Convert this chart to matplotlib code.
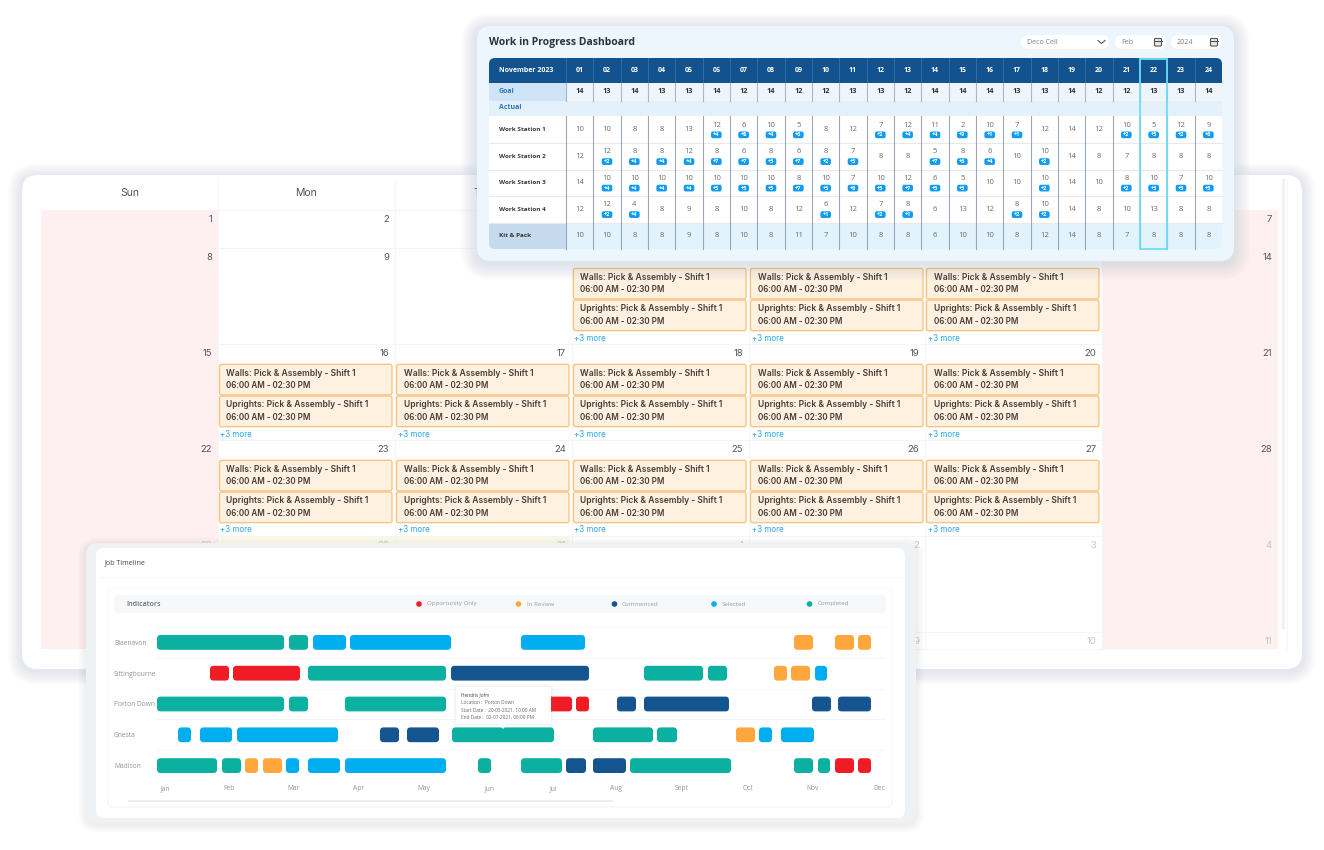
import matplotlib
matplotlib.use("Agg")
import matplotlib.pyplot as plt
from matplotlib.patches import FancyBboxPatch, Rectangle, Circle, Polygon

# ---------- data: work in progress table ----------
wip_days = ["%02d" % d for d in range(1, 25)]
wip_goal = [14,13,14,13,13,14,12,14,12,12,13,13,12,14,14,14,13,13,14,12,12,13,13,14]
ws1_val = [10,10,8,8,13,12,6,10,5,8,12,7,12,11,2,10,7,12,14,12,10,5,12,9]
ws1_add = [0,0,0,0,0,4,8,4,6,0,0,2,4,4,9,1,1,0,0,0,2,5,2,6]
ws2_val = [12,12,8,8,12,8,6,8,6,8,7,8,8,5,8,6,10,10,14,8,7,8,8,8]
ws2_add = [0,2,4,4,4,7,7,3,7,2,3,0,0,7,6,4,0,2,0,0,0,0,0,0]
ws3_val = [14,10,10,10,10,10,10,10,8,10,7,10,12,6,5,10,10,10,14,10,8,10,7,10]
ws3_add = [0,4,4,4,4,5,5,5,7,5,8,5,7,5,5,0,0,2,0,0,2,3,5,3]
ws4_val = [12,12,4,8,9,8,10,8,12,6,12,7,8,6,13,12,8,10,14,8,10,13,8,8]
ws4_add = [0,2,4,0,0,0,0,0,0,1,0,2,1,0,0,0,2,2,0,0,0,0,0,0]
kit_val = [10,10,8,8,9,8,10,8,11,7,10,8,8,6,10,10,8,12,14,8,7,8,8,8]

# ---------- data: calendar ----------
week_days = ["Sun", "Mon", "Tue", "Wed", "Thu", "Fri", "Sat"]
month_days = [[1,2,3,4,5,6,7],[8,9,10,11,12,13,14],[15,16,17,18,19,20,21],
              [22,23,24,25,26,27,28],[29,30,31,1,2,3,4],[5,6,7,8,9,10,11]]
event_cols_by_week = [[], [3,4,5], [1,2,3,4,5], [1,2,3,4,5], [], []]
event_names = ["Walls: Pick & Assembly - Shift 1", "Uprights: Pick & Assembly - Shift 1"]
event_time = "06:00 AM - 02:30 PM"

# ---------- data: job timeline ----------
sites = ["Blaenavon", "Sittingbourne", "Porton Down", "Gnesta", "Madison"]
months = ["Jan","Feb","Mar","Apr","May","Jun","Jul","Aug","Sept","Oct","Nov","Dec"]
month_days_axis = [4,36,68.25,100.75,133.5,166.25,198,229.5,262.5,295.5,328,361]
status_names = ["Opportunity Only", "In Review", "Commenced", "Selected", "Completed"]
task_site = [0]*8 + [1]*9 + [2]*9 + [3]*11 + [4]*16
task_status = ["Completed","Completed","Selected","Selected","Selected","In Review","In Review","In Review",
  "Opportunity Only","Opportunity Only","Completed","Commenced","Completed","Completed","In Review","In Review","Selected",
  "Completed","Completed","Completed","Opportunity Only","Opportunity Only","Commenced","Commenced","Commenced","Commenced",
  "Selected","Selected","Selected","Commenced","Commenced","Completed","Completed","Completed","In Review","Selected","Selected",
  "Completed","Completed","In Review","In Review","Selected","Selected","Selected","Completed","Completed","Commenced","Commenced","Completed","Completed","Completed","Opportunity Only","Opportunity Only"]
task_start = [0,66,78,96.5,182,318.5,339,350.5,
  26.5,38,75.5,147,243.5,275.5,308.5,317,329,
  0,66,94,182,209.5,230,243.5,327.5,340.5,
  10.5,21.5,40,111.5,125,147.5,218,250,289.5,301,312,
  0,32.5,44,53,64.5,75.5,94,160.5,182,204.5,218,236.5,318.5,330.5,339,350.5]
task_end = [63.5,75.5,94.5,147,214,328,348.5,357,
  36,71.5,144.5,216,273,285,315,326.5,335,
  63.5,75.5,144.5,207.5,216,239.5,286,337,357,
  17,37.5,90.5,121,141,198.5,248,260,299,307.5,328.5,
  30,42,50.5,62.5,71,91.5,144.5,167,202.5,214.5,234.5,287,328,336.5,348.5,357]
tooltip_lines = ["Hendris John", "Location :  Porton Down", "Start Date :  20-05-2021, 10:00 AM", "End Date :  02-07-2021, 06:00 PM"]

# ---------- styles ----------
STATUS_COL = {"Opportunity Only":"#EF1C25","In Review":"#FFA63D","Commenced":"#14548F","Selected":"#00ADEF","Completed":"#0BB0A0"}
UI = ["Open Sans", "DejaVu Sans"]
CAL = ["Inter", "Open Sans", "DejaVu Sans"]
px = lambda p: p * 0.72

fig = plt.figure(figsize=(13.24, 8.5), dpi=100, facecolor="white")
ax = fig.add_axes([0, 0, 1, 1], zorder=0)
ax.set_xlim(0, 1324); ax.set_ylim(850, 0); ax.axis("off")

def rbox(a, x0, y0, x1, y1, r, fc, ec="none", lw=0, z=1, alpha=None):
    p = FancyBboxPatch((x0, y0), x1-x0, y1-y0, boxstyle=f"round,pad=0,rounding_size={r}",
                       fc=fc, ec=ec, lw=lw, zorder=z, alpha=alpha)
    a.add_patch(p)
    return p

def shadow(a, x0, y0, x1, y1, r, z, spread=14, dy=3, col="#8A97A5", alpha=0.018):
    for s in range(spread, 0, -1):
        rbox(a, x0-s, y0-s+dy, x1+s, y1+s+dy, r+s, col, z=z, alpha=alpha)

# ========== calendar ==========
CZ = 1
shadow(ax, 22, 175, 1302, 669, 16, CZ, spread=14, dy=2, alpha=0.011)
rbox(ax, 22, 175, 1302, 669, 16, "white", z=CZ+.1)
col_x = [41, 218, 395, 572, 749, 925, 1102, 1278]
row_y = [210, 248, 344, 440, 536, 632, 649]
for c in (0, 6):
    ax.add_patch(Rectangle((col_x[c], 210), col_x[c+1]-col_x[c], 439, fc="#FEF0F0", ec="none", zorder=CZ+.2))
ax.add_patch(Rectangle((col_x[1]+2, 536), col_x[3]-col_x[1]-4, 8, fc="#FDFBE6", ec="none", zorder=CZ+.2))
for x in col_x[1:7]:
    ax.plot([x, x], [178, 649], color="#F5F6F7", lw=0.8, zorder=CZ+.3)
for y in row_y:
    ax.plot([col_x[1], col_x[6]], [y, y], color="#F4F5F6", lw=0.8, zorder=CZ+.3)
ax.plot([1283, 1283], [180, 627], color="#EEF3F5", lw=2.2, zorder=CZ+.3)
ax.plot([1286.5, 1286.5], [180, 649], color="#F4F5F6", lw=0.7, zorder=CZ+.3)
for c, name in enumerate(week_days):
    ax.text((col_x[c]+col_x[c+1])/2, 193, name, family=CAL, fontsize=px(10.5), color="#555555",
            ha="center", va="center", zorder=CZ+.4)
for w, week in enumerate(month_days):
    top = row_y[w]
    for c, d in enumerate(week):
        col = "#555555" if w < 4 else "#C4C4C4"
        ax.text(col_x[c+1]-6, top+9.5, str(d), family=CAL, fontsize=px(9.5), color=col,
                ha="right", va="center", zorder=CZ+.4)
    for c in event_cols_by_week[w]:
        x0, x1 = col_x[c]+1.5, col_x[c]+174
        for k, name in enumerate(event_names):
            y0 = top + 20.3 + k*31.8
            rbox(ax, x0, y0, x1, y0+30.6, 2, "#FFF1E0", ec="#FBC07A", lw=0.9, z=CZ+.5)
            ax.text(x0+7, y0+8.7, name, family=CAL, fontsize=px(8.55), fontweight="semibold",
                    color="#463C3A", va="center", zorder=CZ+.6)
            ax.text(x0+7, y0+21.2, event_time, family=CAL, fontsize=px(8.1), fontweight="semibold",
                    color="#463C3A", va="center", zorder=CZ+.6)
        ax.text(x0+1, top+90, "+3 more", family=CAL, fontsize=px(8), color="#2BA6EE", va="center", zorder=CZ+.6)

# ========== work in progress card ==========
WZ = 5
shadow(ax, 477, 26, 1234, 261, 14, WZ, spread=16, dy=3, alpha=0.013)
rbox(ax, 477, 26, 1234, 261, 14, "#EDF5FD", z=WZ+.1)
ax.text(489, 42, "Work in Progress Dashboard", family=UI, fontsize=px(10.4), fontweight="bold",
        color="#2B3340", va="center", zorder=WZ+.2)
for x0, x1, label in [(1021,1109,"Deco Cell"),(1115,1166,"Feb"),(1171,1221,"2024")]:
    rbox(ax, x0, 35, x1, 49, 7, "white", z=WZ+.2)
    ax.text(x0+6, 42, label, family=UI, fontsize=px(7.2), color="#7A7F86", va="center", zorder=WZ+.3)
ax.plot([1098, 1101.5, 1105], [40.5, 43.5, 40.5], color="#555", lw=0.8, zorder=WZ+.3)
for x in (1158, 1214):
    rbox(ax, x-3.5, 38.5, x+3.5, 46, 1, "#E8EAEC", ec="#555", lw=0.8, z=WZ+.3)
    ax.plot([x-3.5, x+3.5], [40.5, 40.5], color="#555", lw=0.8, zorder=WZ+.3)

T0, T1, F0 = 489, 1222, 566
cw = (T1 - F0) / 24
ty = [58, 83, 100.5, 116, 143, 169.5, 196, 222.5, 249]
clip = FancyBboxPatch((T0, ty[0]), T1-T0, ty[-1]-ty[0], boxstyle="round,pad=0,rounding_size=6",
                      fc="none", ec="none", transform=ax.transData)
ax.add_patch(clip)
def cell(x0, y0, x1, y1, fc, z=WZ+.3):
    r = Rectangle((x0, y0), x1-x0, y1-y0, fc=fc, ec="none", zorder=z)
    ax.add_patch(r); r.set_clip_path(clip)
cell(T0, ty[0], T1, ty[1], "#12528F")
cell(T0, ty[1], F0, ty[2], "#CFE5F7"); cell(F0, ty[1], T1, ty[2], "#EEF6FC")
cell(T0, ty[2], T1, ty[3], "#E4F1FB")
cell(T0, ty[3], T1, ty[7], "white")
cell(T0, ty[7], F0, ty[8], "#C5DAEC"); cell(F0, ty[7], T1, ty[8], "#E2F3FB")
for i in range(3, 7):
    ax.plot([T0, T1], [ty[i+1], ty[i+1]], color="#E6E9ED", lw=0.8, zorder=WZ+.4)
for i in range(24):
    x = F0 + i*cw
    ax.plot([x, x], [ty[0], ty[1]], color="#2F6EA6", lw=0.7, zorder=WZ+.4)
    ax.plot([x, x], [ty[1], ty[2]], color="#A9B8C8", lw=0.8, zorder=WZ+.4)
    ax.plot([x, x], [ty[3], ty[8]], color="#9AA8BA", lw=0.8, zorder=WZ+.4)
BOLD = dict(family=UI, fontweight="bold", va="center", zorder=WZ+.6)
ax.text(499, 70.5, "November 2023", color="white", fontsize=px(7), **BOLD)
ax.text(499, 91.5, "Goal", color="#2C76C0", fontsize=px(7), **BOLD)
ax.text(499, 107.5, "Actual", color="#2C76C0", fontsize=px(7), **BOLD)
for i, (d, g) in enumerate(zip(wip_days, wip_goal)):
    xc = F0 + (i+.5)*cw
    ax.text(xc, 70, d, color="white", ha="center", fontsize=px(7), **BOLD)
    ax.text(xc, 91.5, str(g), color="#2B3340", ha="center", fontsize=px(7.4), **BOLD)
rows = [("Work Station 1", ws1_val, ws1_add), ("Work Station 2", ws2_val, ws2_add),
        ("Work Station 3", ws3_val, ws3_add), ("Work Station 4", ws4_val, ws4_add),
        ("Kit & Pack", kit_val, [0]*24)]
for r, (name, vals, adds) in enumerate(rows):
    y0, y1 = ty[r+3], ty[r+4]
    yc = (y0+y1)/2
    ax.text(499, yc, name, color="#333840", fontsize=px(6.4), **BOLD)
    for i, (v, a) in enumerate(zip(vals, adds)):
        xc = F0 + (i+.5)*cw
        if a:
            ax.text(xc, yc-4.3, str(v), family=UI, fontsize=px(7.6), color="#666B72",
                    ha="center", va="center", zorder=WZ+.6)
            rbox(ax, xc-5.3, yc+2, xc+5.3, yc+8.7, 2, "#0D9BF5", z=WZ+.5)
            ax.text(xc, yc+5.3, f"+{a}", color="white", ha="center", fontsize=px(5.6), **BOLD)
        else:
            ax.text(xc, yc, str(v), family=UI, fontsize=px(7.6), color="#666B72",
                    ha="center", va="center", zorder=WZ+.6)
hl = wip_days.index("22")
ax.add_patch(Rectangle((F0+hl*cw, ty[0]+.5), cw, 190, fc="none", ec="#6FDCF5", lw=1.3, zorder=WZ+.7))

# ========== job timeline card ==========
GZ = 8
shadow(ax, 86, 543, 916, 823, 12, GZ, spread=8, dy=2, alpha=0.016)
rbox(ax, 86, 543, 916, 823, 12, "#EEF2F4", z=GZ+.1)
rbox(ax, 96, 548, 905, 818, 8, "white", z=GZ+.2)
ax.text(105, 563, "Job Timeline", family=UI, fontsize=px(7.1), color="#444", va="center", zorder=GZ+.3)
ax.plot([98, 903], [577, 577], color="#F4F5F6", lw=0.8, zorder=GZ+.3)
rbox(ax, 108, 588, 892, 807, 5, "white", ec="#F4F5F6", lw=0.8, z=GZ+.3)
rbox(ax, 114, 595, 886, 613, 5, "#F7F8F9", z=GZ+.4)
ax.text(126, 604, "Indicators", family=UI, fontsize=px(7.2), fontweight="semibold", color="#707070", va="center", zorder=GZ+.5)
for s, dx, tx in zip(status_names, [419, 518.5, 614.5, 714, 809.5], [427, 527, 622, 722, 818]):
    ax.add_patch(Circle((dx, 604), 2.8, fc=STATUS_COL[s], ec="none", zorder=GZ+.5))
    ax.text(tx, 604, s, family=UI, fontsize=px(6.1), color="#9A9A9A", va="center", zorder=GZ+.5)
ax.add_patch(Rectangle((128, 800), 485, 2, fc="#ECEEF0", ec="none", zorder=GZ+.5))

gx = fig.add_axes([157/1324, 1-781/850, 729/1324, 154/850], zorder=2)
gx.patch.set_alpha(0)
gx.set_xlim(0, 364.5); gx.set_ylim(4.5, -0.5)
for sp in gx.spines.values(): sp.set_visible(False)
gx.set_yticks(range(len(sites)), sites, family=UI, fontsize=px(6.6), color="#939393", ha="left")
gx.set_xticks(month_days_axis, months, family=UI, fontsize=px(6.6), color="#939393")
gx.tick_params(axis="both", length=0)
gx.tick_params(axis="y", pad=px(43))
gx.tick_params(axis="x", pad=px(4.5))
gx.set_yticks([-.5, .5, 1.5, 2.5, 3.5, 4.5], minor=True)
gx.tick_params(axis="y", which="minor", length=0)
gx.grid(True, axis="y", which="minor", color="#F4F5F6", lw=0.8)
gx.set_axisbelow(True)
asp = (1/30.8) / 0.5
for site, st, a, b in zip(task_site, task_status, task_start, task_end):
    gx.add_patch(FancyBboxPatch((a, site-.24), b-a, .48, boxstyle="round,pad=0,rounding_size=1.8",
                                mutation_aspect=asp, fc=STATUS_COL[st], ec="none", zorder=3))

top = fig.add_axes([0, 0, 1, 1], zorder=3)
top.set_xlim(0, 1324); top.set_ylim(850, 0); top.axis("off"); top.patch.set_alpha(0)
shadow(top, 456, 687, 551, 724, 2, 1, spread=3, dy=0, alpha=0.03)
rbox(top, 456, 687, 551, 724, 2, "white", z=2)
top.add_patch(Polygon([[498.5, 724], [507.5, 724], [503, 729]], fc="white", ec="none", zorder=2))
for k, line in enumerate(tooltip_lines):
    top.text(461, 695+k*7.5, line, family=UI, fontsize=px(4.7), color="#444" if k == 0 else "#666",
             va="center", zorder=3)

fig.savefig("out.png", dpi=100, facecolor="white")
